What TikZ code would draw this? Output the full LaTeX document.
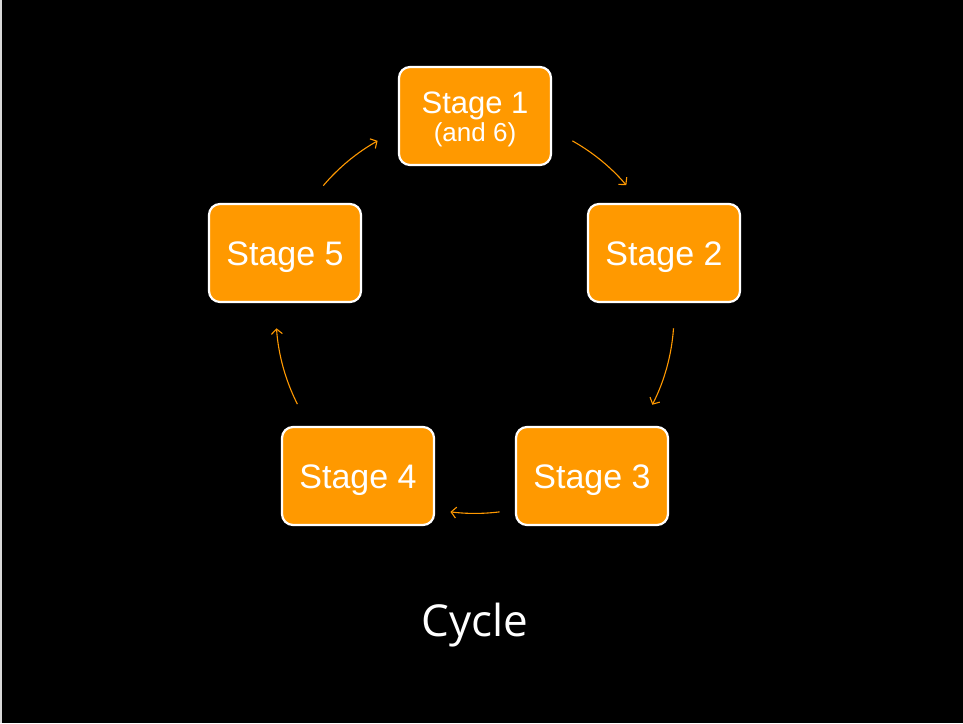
\documentclass[tikz,border=0pt]{standalone}
\usepackage{fontspec}
\setmainfont{Liberation Sans}
\newfontfamily\cyclefont{Open Sans}
\usetikzlibrary{arrows.meta,calc}
\definecolor{stageorange}{HTML}{FF9900}
\definecolor{edgegray}{HTML}{D9D9D9}
\tikzset{
  stagebox/.style={draw=white, line width=2.2pt, fill=stageorange, rounded corners=11pt,
    minimum width=152pt, minimum height=98pt, inner sep=0pt, text=white, align=center,
    font=\fontsize{34}{38}\selectfont, text height=24pt, text depth=0pt},
  stagetext/.style={inner sep=0pt, text=white, anchor=base},
  conn/.style={draw=stageorange, line width=1.1pt,
    -{Straight Barb[length=5pt,width=11pt,line width=1.1pt]}},
}
\begin{document}
\begin{tikzpicture}[x=1pt,y=-1pt]
\fill[edgegray] (0,0) rectangle (963,723);
\fill[black] (2,0) rectangle (963,723);
\useasboundingbox (0,0) rectangle (963,723);
\coordinate (c) at (475,314.4);
\node[stagebox] (s1) at (475,116) {};
\node[stagetext, font=\fontsize{31}{36}\selectfont] (s1a) at (475,113) {Stage 1};
\node[stagetext, font=\fontsize{26}{30}\selectfont] (s1b) at (475,141) {(and 6)};
\node[stagebox] (s2) at (664,253) {Stage 2};
\node[stagebox] (s3) at (592,476) {Stage 3};
\node[stagebox] (s4) at (358,476) {Stage 4};
\node[stagebox] (s5) at (285,253) {Stage 5};
\coordinate (a1) at ($(c)+(60.7:199pt)$);
\draw[conn] (a1) arc[start angle=60.7, end angle=40.5, radius=199pt];
\coordinate (a2) at ($(c)+(-4:199pt)$);
\draw[conn] (a2) arc[start angle=-4, end angle=-27, radius=199pt];
\coordinate (a3) at ($(c)+(-82.9:199pt)$);
\draw[conn] (a3) arc[start angle=-82.9, end angle=-97.1, radius=199pt];
\coordinate (a4) at ($(c)+(-153.2:199pt)$);
\draw[conn] (a4) arc[start angle=-153.2, end angle=-176, radius=199pt];
\coordinate (a5) at ($(c)+(139.7:199pt)$);
\draw[conn] (a5) arc[start angle=139.7, end angle=119.3, radius=199pt];
\node[text=white, font=\cyclefont\fontsize{44}{50}\selectfont, inner sep=0pt] (cyc) at (475,625) {Cycle};
\end{tikzpicture}
\end{document}
